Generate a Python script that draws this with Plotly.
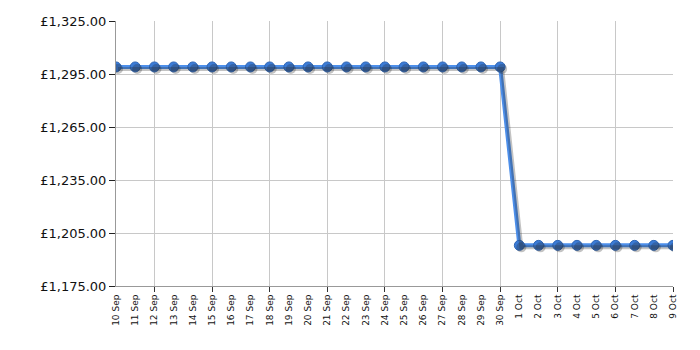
import plotly.graph_objects as go

dates = ["10 Sep", "11 Sep", "12 Sep", "13 Sep", "14 Sep", "15 Sep", "16 Sep", "17 Sep",
         "18 Sep", "19 Sep", "20 Sep", "21 Sep", "22 Sep", "23 Sep", "24 Sep", "25 Sep",
         "26 Sep", "27 Sep", "28 Sep", "29 Sep", "30 Sep", "1 Oct", "2 Oct", "3 Oct",
         "4 Oct", "5 Oct", "6 Oct", "7 Oct", "8 Oct", "9 Oct"]
prices = [1299.0] * 21 + [1198.0] * 9
y_ticks = [1175, 1205, 1235, 1265, 1295, 1325]
y_tick_text = ["\u00a3{:,.2f}".format(v) for v in y_ticks]

idx = list(range(len(dates)))
ymin, ymax = 1175, 1325
plot_w, plot_h = 557, 265
dx = 2.0 * (len(dates) - 1) / plot_w
dy = 2.0 * (ymax - ymin) / plot_h

fig = go.Figure()
# shadow
fig.add_trace(go.Scatter(
    x=idx, y=prices, xaxis="x2", yaxis="y2", mode="lines+markers",
    line=dict(color="rgba(40,40,40,0.28)", width=4),
    marker=dict(size=10, color="rgba(40,40,40,0.28)"),
    hoverinfo="skip", showlegend=False))
fig.add_trace(go.Scatter(
    x=idx, y=prices, mode="lines+markers",
    line=dict(color="#4d8fea", width=4),
    marker=dict(size=10, color="#3b7bd6", line=dict(color="#2f66b5", width=1)),
    showlegend=False))

fig.update_layout(
    width=700, height=350,
    margin=dict(l=116, r=27, t=21, b=64),
    paper_bgcolor="white", plot_bgcolor="white",
    font=dict(family="DejaVu Sans", color="#111111"),
    xaxis=dict(
        range=[0, len(dates) - 1], tickmode="array", tickvals=idx, ticktext=dates,
        tickangle=-90, tickfont=dict(size=9), ticks="", showgrid=False,
        ticklabelstandoff=4,
        showline=True, linecolor="#999999", linewidth=1, zeroline=False,
        minor=dict(tickmode="array", tickvals=list(range(2, len(dates), 3)),
                   ticks="outside", ticklen=5, tickcolor="#333333",
                   showgrid=True, gridcolor="#c8c8c8", gridwidth=1),
    ),
    yaxis=dict(
        range=[ymin, ymax], tickmode="array", tickvals=y_ticks, ticktext=y_tick_text,
        tickfont=dict(size=13),
        ticks="outside", ticklen=6, tickcolor="#222222",
        showgrid=True, gridcolor="#c8c8c8", gridwidth=1,
        showline=True, linecolor="#999999", linewidth=1, zeroline=False,
    ),
    xaxis2=dict(overlaying="x", range=[0 - dx, len(dates) - 1 - dx], visible=False),
    yaxis2=dict(overlaying="y", range=[ymin + dy, ymax + dy], visible=False),
)

fig.write_html("out.html")
